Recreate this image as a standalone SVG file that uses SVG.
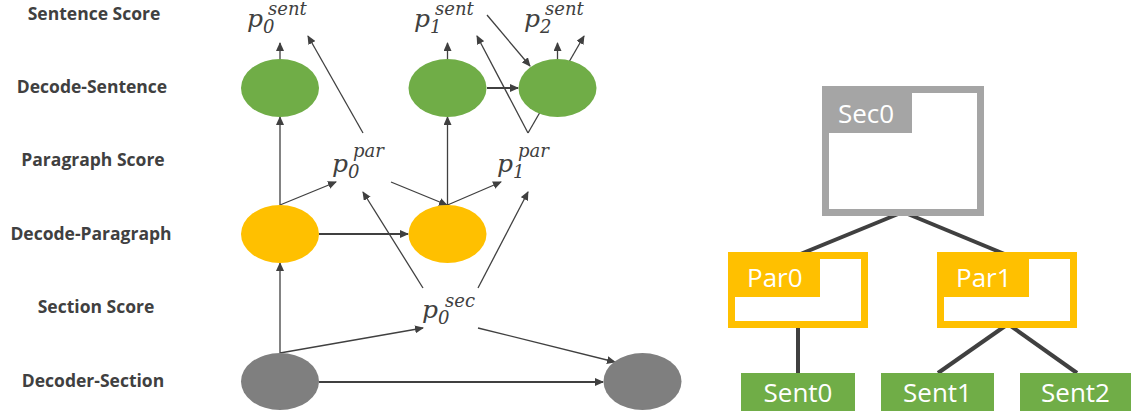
<svg xmlns="http://www.w3.org/2000/svg" width="1131" height="416" viewBox="0 0 1131 416">
<defs>
<marker id="ah" markerWidth="9" markerHeight="8" refX="8" refY="4" orient="auto" markerUnits="userSpaceOnUse">
<path d="M0,0 L9,4 L0,8 Z" fill="#404040"/>
</marker>
<style>
.lbl{font-family:"Open Sans","Liberation Sans",sans-serif;font-weight:bold;font-size:17.5px;fill:#404040;text-anchor:middle}
.m{font-family:"DejaVu Serif","Liberation Serif",serif;font-style:italic;fill:#404040}
.mp{font-size:25px}
.ms{font-size:18px}
.ar{stroke:#404040;stroke-width:1.3;fill:none;marker-end:url(#ah)}
.arb{stroke:#404040;stroke-width:2;fill:none;marker-end:url(#ah)}
.tl{stroke:#404040;stroke-width:4;fill:none}
.bt{font-family:"Open Sans","Noto Sans",sans-serif;font-size:26px;fill:#ffffff}
</style>
</defs>
<rect width="1131" height="416" fill="#ffffff"/>
<g id="row-labels">
<text class="lbl" x="94" y="20">Sentence Score</text>
<text class="lbl" x="92" y="93">Decode-Sentence</text>
<text class="lbl" x="93" y="166">Paragraph Score</text>
<text class="lbl" x="91" y="240">Decode-Paragraph</text>
<text class="lbl" x="96" y="313">Section Score</text>
<text class="lbl" x="93" y="387">Decoder-Section</text>
</g>
<g id="connectors">
<line class="ar" x1="280" y1="59" x2="280" y2="43"/>
<line class="ar" x1="447.5" y1="59" x2="447.5" y2="43"/>
<line class="ar" x1="557.5" y1="59" x2="557.5" y2="43"/>
<line class="ar" x1="363" y1="133" x2="308" y2="36"/>
<line class="ar" x1="487" y1="15" x2="530" y2="66"/>
<line class="ar" x1="528" y1="133" x2="477" y2="36"/>
<line class="ar" x1="528" y1="133" x2="584" y2="36"/>
<line class="arb" x1="487" y1="88" x2="518" y2="88"/>
<line class="ar" x1="280" y1="205" x2="280" y2="117"/>
<line class="ar" x1="447.5" y1="205" x2="447.5" y2="117"/>
<line class="ar" x1="280" y1="205" x2="336" y2="182"/>
<line class="ar" x1="391" y1="182" x2="447" y2="205"/>
<line class="ar" x1="447.5" y1="205" x2="501" y2="182"/>
<line class="arb" x1="319" y1="234" x2="408" y2="234"/>
<line class="ar" x1="423" y1="288" x2="363" y2="192"/>
<line class="ar" x1="478" y1="288" x2="528" y2="192"/>
<line class="ar" x1="280" y1="353" x2="280" y2="263"/>
<line class="ar" x1="280" y1="353" x2="423" y2="328"/>
<line class="ar" x1="478" y1="328" x2="615" y2="362"/>
<line class="arb" x1="319" y1="382" x2="603" y2="382"/>
<line class="tl" x1="903" y1="212" x2="798" y2="255"/>
<line class="tl" x1="903" y1="212" x2="1007" y2="255"/>
<line class="tl" x1="798" y1="325" x2="798" y2="373"/>
<line class="tl" x1="1008" y1="324" x2="938" y2="373"/>
<line class="tl" x1="1008" y1="324" x2="1077" y2="373"/>
</g>
<g id="scores">
<text class="m" x="247" y="27"><tspan class="mp">p</tspan><tspan class="ms" dy="6">0</tspan><tspan class="ms" x="268" y="15">sent</tspan></text>
<text class="m" x="414" y="27"><tspan class="mp">p</tspan><tspan class="ms" dy="6">1</tspan><tspan class="ms" x="435" y="15">sent</tspan></text>
<text class="m" x="524" y="27"><tspan class="mp">p</tspan><tspan class="ms" dy="6">2</tspan><tspan class="ms" x="545" y="15">sent</tspan></text>
<text class="m" x="332" y="172"><tspan class="mp">p</tspan><tspan class="ms" dy="6">0</tspan><tspan class="ms" x="353" y="157">par</tspan></text>
<text class="m" x="497" y="172"><tspan class="mp">p</tspan><tspan class="ms" dy="6">1</tspan><tspan class="ms" x="518" y="157">par</tspan></text>
<text class="m" x="422" y="318"><tspan class="mp">p</tspan><tspan class="ms" dy="6">0</tspan><tspan class="ms" x="445" y="307">sec</tspan></text>
</g>
<g id="sent-dec-0"><ellipse cx="280" cy="88" rx="39" ry="29" fill="#70AD47"/></g>
<g id="sent-dec-1"><ellipse cx="447.5" cy="88" rx="39" ry="29" fill="#70AD47"/></g>
<g id="sent-dec-2"><ellipse cx="557.5" cy="88" rx="39" ry="29" fill="#70AD47"/></g>
<g id="par-dec-0"><ellipse cx="280" cy="234" rx="39" ry="29" fill="#FFC000"/></g>
<g id="par-dec-1"><ellipse cx="447.5" cy="234" rx="39" ry="29" fill="#FFC000"/></g>
<g id="sec-dec-0"><ellipse cx="280" cy="381.5" rx="39" ry="28.5" fill="#7F7F7F"/></g>
<g id="sec-dec-1"><ellipse cx="642.5" cy="381.5" rx="39" ry="28.5" fill="#7F7F7F"/></g>
<g id="sec0">
<rect x="825.5" y="89.5" width="155" height="123" fill="#ffffff" stroke="#A5A5A5" stroke-width="7"/>
<rect x="822" y="86" width="90" height="47" fill="#A5A5A5"/>
<text class="bt" x="838" y="123">Sec0</text>
</g>
<g id="par0">
<rect x="731.5" y="255.5" width="133" height="69" fill="#ffffff" stroke="#FFC000" stroke-width="7"/>
<rect x="728" y="252" width="92" height="45" fill="#FFC000"/>
<text class="bt" x="747" y="287">Par0</text>
</g>
<g id="par1">
<rect x="940.5" y="255.5" width="133" height="69" fill="#ffffff" stroke="#FFC000" stroke-width="7"/>
<rect x="937" y="252" width="92" height="45" fill="#FFC000"/>
<text class="bt" x="956" y="287">Par1</text>
</g>
<g id="sent0">
<rect x="741" y="373" width="114" height="38" fill="#70AD47"/>
<text class="bt" x="798" y="402" text-anchor="middle">Sent0</text>
</g>
<g id="sent1">
<rect x="881" y="373" width="113" height="38" fill="#70AD47"/>
<text class="bt" x="937.5" y="402" text-anchor="middle">Sent1</text>
</g>
<g id="sent2">
<rect x="1020" y="373" width="111" height="38" fill="#70AD47"/>
<text class="bt" x="1075.5" y="402" text-anchor="middle">Sent2</text>
</g>
</svg>
